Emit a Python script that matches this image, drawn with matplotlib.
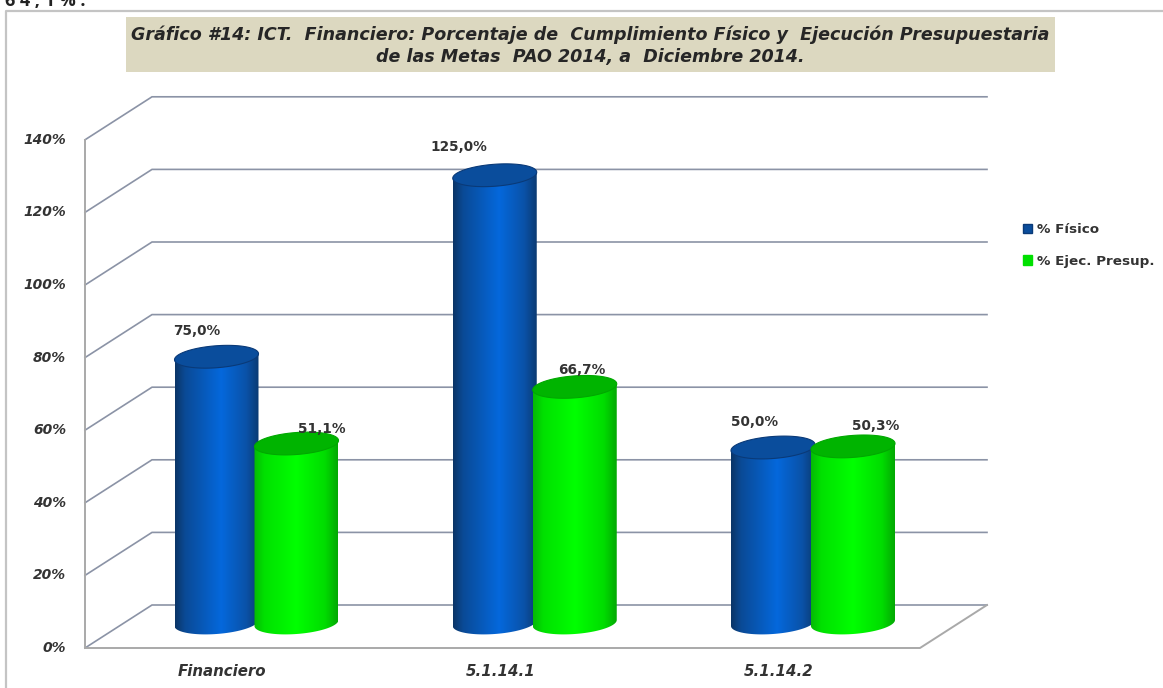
import matplotlib
matplotlib.use("Agg")
import matplotlib.pyplot as plt
import numpy as np
from matplotlib.colors import LinearSegmentedColormap
from matplotlib.patches import Patch, PathPatch, Polygon, Rectangle
from matplotlib.path import Path

categories = ["Financiero", "5.1.14.1", "5.1.14.2"]
fisico = [75.0, 125.0, 50.0]
ejec = [51.1, 66.7, 50.3]
y_ticks = [0, 20, 40, 60, 80, 100, 120, 140]
title = ("Gráfico #14: ICT.  Financiero: Porcentaje de  Cumplimiento Físico y  Ejecución Presupuestaria\n"
         "de las Metas  PAO 2014, a  Diciembre 2014.")

W, H = 1163, 688
# the axes fill the figure, scaled so that one category = 278.25 px and 1% = 3.63 px
GROUP_PX = 278.25
PCT_PX = 3.63
X0_PX = 256.0
BASE_PX = 629.0
FLOOR_PX = 623.0


def xp(px):
    return (np.asarray(px, dtype=float) - X0_PX) / GROUP_PX


def yp(px):
    return (BASE_PX - np.asarray(px, dtype=float)) / PCT_PX


fig = plt.figure(figsize=(W / 100, H / 100), dpi=100)
ax = fig.add_axes([0, 0, 1, 1])
ax.axis("off")

GRID = "#8b93a6"
AXIS = "#a9a9a9"

# page fragment above the chart and the chart frame
ax.text(xp(5), yp(6), "6 4 , 1 % .", fontsize=13, fontweight="bold", color="#222222",
        family="Open Sans", va="baseline", ha="left")
ax.plot(xp([6, 6, W]), yp([H, 11, 11]), color="#c4c4c4", lw=1.6)

# title band
ax.add_patch(Rectangle((xp(126), yp(72)), xp(1055) - xp(126), yp(17) - yp(72),
                       facecolor="#dcd8c0", edgecolor="none"))
ax.text(xp(590), yp(45.5), title, ha="center", va="center", fontsize=12.6, fontweight="bold",
        fontstyle="italic", family="DejaVu Sans", color="#262626", linespacing=1.3)

# 3d walls: front axis on the left, back wall offset up and to the right
for v in y_ticks:
    front = 648 - v * PCT_PX
    back = 605 - v * PCT_PX
    ax.plot(xp([85, 152, 987]), yp([front, back, back]), color=GRID, lw=1.2, zorder=1,
            solid_joinstyle="miter")
    ax.text(xp(66), yp(front), f"{v}%", ha="right", va="center", fontsize=10,
            fontweight="bold", fontstyle="italic", color="#333333", family="DejaVu Sans")
ax.plot(xp([85, 85]), yp([648, 648 - 140 * PCT_PX]), color=AXIS, lw=1.4, zorder=1.1)
ax.plot(xp([85, 920, 987]), yp([648, 648, 605]), color=AXIS, lw=1.4, zorder=1.1)

blue_map = LinearSegmentedColormap.from_list(
    "blue", [(0, "#0b3566"), (0.12, "#0a4a96"), (0.55, "#0468dc"), (0.85, "#0a52a8"), (1, "#0b3a72")])
green_map = LinearSegmentedColormap.from_list(
    "green", [(0, "#06b806"), (0.12, "#00e000"), (0.5, "#00ff00"), (0.85, "#00dc00"), (1, "#04a804")])
ramp = np.linspace(0, 1, 256).reshape(1, -1)
t = np.linspace(0, 2 * np.pi, 121)


def cylinder(cx_px, value, cmap, top_color, rim_color, z):
    half = 42.0
    b = 11.0
    tilt = 3.0
    top_px = BASE_PX - value * PCT_PX
    ex = half * np.cos(t)
    ey = b * np.sin(t) - tilt * np.cos(t)
    low = t[:61]
    bx = half * np.cos(low)
    by = b * np.sin(low) - tilt * np.cos(low)
    body_x = np.r_[cx_px + half, cx_px + bx, cx_px - half]
    body_y = np.r_[top_px - tilt, FLOOR_PX + by, top_px + tilt]
    verts = np.column_stack([xp(body_x), yp(body_y)])
    clip = PathPatch(Path(np.vstack([verts, verts[0]]), closed=True),
                     transform=ax.transData, facecolor="none", edgecolor="none")
    ax.add_patch(clip)
    im = ax.imshow(ramp, cmap=cmap, aspect="auto", zorder=z, interpolation="bilinear",
                   extent=(xp(cx_px - half), xp(cx_px + half), yp(FLOOR_PX + 16), yp(top_px - 16)))
    im.set_clip_path(clip)
    ax.add_patch(Polygon(np.column_stack([xp(cx_px + ex), yp(top_px + ey)]), closed=True,
                         facecolor=top_color, edgecolor=rim_color, lw=0.8, zorder=z + 0.01))


bar_offset = {"fisico": -39.5, "ejec": 40.5}
for i in range(len(categories)):
    centre = X0_PX + i * GROUP_PX
    cylinder(centre + bar_offset["fisico"], fisico[i], blue_map, "#0a4d9c", "#0a3a78", 2 + i)
    cylinder(centre + bar_offset["ejec"], ejec[i], green_map, "#00b400", "#00a800", 2.5 + i)
    ax.text(xp(centre - 34), yp(671), categories[i], ha="center", va="center", fontsize=10.8,
            fontweight="bold", fontstyle="italic", color="#333333", family="DejaVu Sans")

# label positions relative to the top of each bar, in px (right, up)
fis_shift = [(-20, 26), (-36, 28), (-18, 26)]
ejec_shift = [(25, 15), (7, 17), (23, 20)]


def label(x_px, value, shift):
    ax.annotate(f"{value:.1f}%".replace(".", ","), xy=(xp(x_px), value),
                xytext=(shift[0] * 0.72, shift[1] * 0.72), textcoords="offset points",
                ha="center", va="center", fontsize=9.8, color="#333333",
                fontweight="bold", family="DejaVu Sans", zorder=20)


for i in range(len(categories)):
    centre = X0_PX + i * GROUP_PX
    label(centre + bar_offset["fisico"], fisico[i], fis_shift[i])
    label(centre + bar_offset["ejec"], ejec[i], ejec_shift[i])

ax.set_xlim(xp(0), xp(W))
ax.set_ylim(yp(H), yp(0))

handles = [Patch(facecolor="#0a4d9c", edgecolor="#0a3a78", label="% Físico"),
           Patch(facecolor="#00e000", edgecolor="#00e000", label="% Ejec. Presup.")]
ax.legend(handles=handles, loc="upper left", bbox_to_anchor=(1023 / W, 1 - 223 / H), frameon=False,
          prop={"size": 9.7, "weight": "bold", "family": "DejaVu Sans"}, labelcolor="#333333",
          handlelength=0.7, handleheight=0.7, handletextpad=0.35, labelspacing=1.4,
          borderpad=0, borderaxespad=0)

fig.savefig("out.png", dpi=100, facecolor="white")
